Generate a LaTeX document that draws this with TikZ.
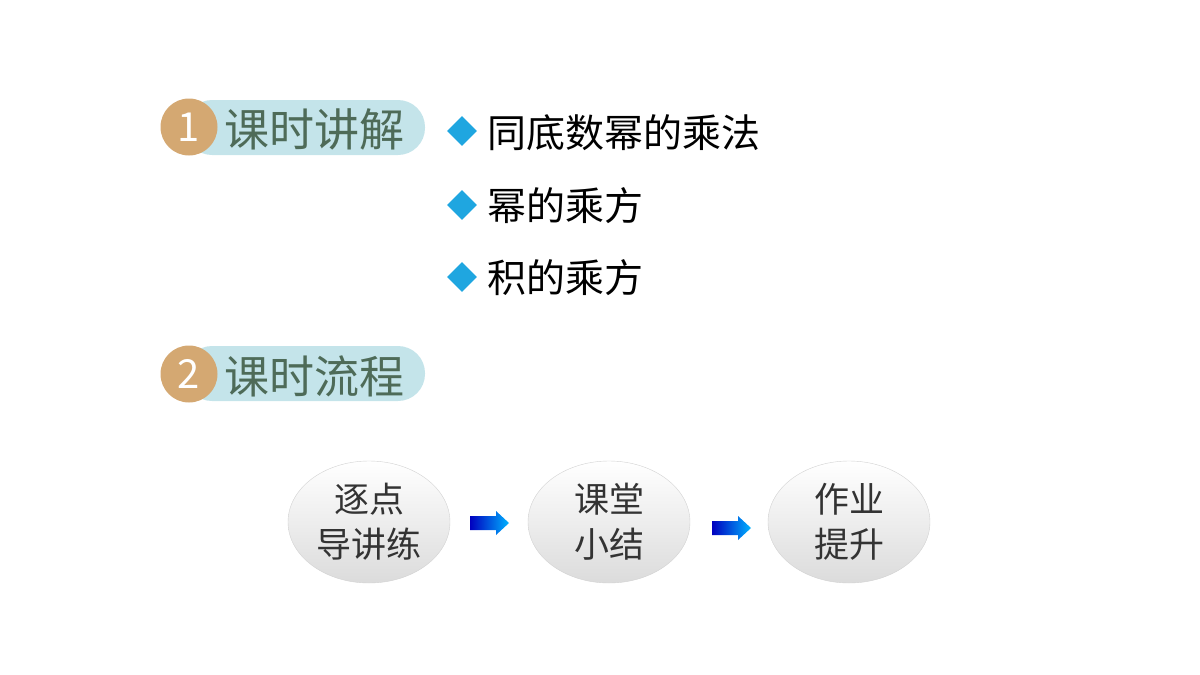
\documentclass[tikz,border=0pt]{standalone}
\usepackage{fontspec}
\setmainfont{Noto Sans CJK SC}
\usetikzlibrary{shapes.arrows,shapes.geometric}
\definecolor{tan}{HTML}{D4A872}
\definecolor{pill}{HTML}{C4E4EA}
\definecolor{ttl}{HTML}{4E6B58}
\definecolor{dia}{HTML}{1FA6E0}
\begin{document}
\begin{tikzpicture}[x=1pt,y=-1pt,
  pill/.style={fill=pill,rounded corners=27pt},
  num/.style={circle,fill=tan,minimum size=57pt,inner sep=0,text=white,font=\fontsize{40}{40}\selectfont},
  ttl/.style={anchor=west,text=ttl,inner sep=0,font=\fontsize{45}{45}\selectfont},
  dia/.style={diamond,fill=dia,minimum size=30pt,inner sep=0},
  item/.style={anchor=west,inner sep=0,font=\fontsize{39}{39}\selectfont},
  ell/.style={ellipse,minimum width=162pt,minimum height=122pt,top color=white,bottom color=gray!28,draw=gray!35,align=center,font=\fontsize{35}{45}\selectfont,text=black!80},
  arr/.style={left color=blue!75!black,right color=cyan!70!blue}]
\useasboundingbox (0,0) rectangle (1200,675);
\fill[pill] (185,100) rectangle (425,155);
\node[num] (n1) at (189,127) {1};
\node[ttl] (t1) at (224,129) {课时讲解};
\fill[pill] (185,346) rectangle (425,401);
\node[num] (n2) at (189,374) {2};
\node[ttl] (t2) at (224,376) {课时流程};
\node[dia] (d1) at (462,131) {};
\node[item] (i1) at (487,133) {同底数幂的乘法};
\node[dia] (d2) at (462,205) {};
\node[item] (i2) at (487,206) {幂的乘方};
\node[dia] (d3) at (462,277) {};
\node[item] (i3) at (487,278) {积的乘方};
\node[ell] (e1) at (369,522) {逐点\\导讲练};
\node[ell] (e2) at (609,522) {课堂\\小结};
\node[ell] (e3) at (849,522) {作业\\提升};
\shade[arr] (470,516) -- (496,516) -- (496,511) -- (509,523) -- (496,535) -- (496,530) -- (470,530) -- cycle;
\shade[arr] (712,521) -- (738,521) -- (738,516) -- (751,528) -- (738,540) -- (738,535) -- (712,535) -- cycle;
\end{tikzpicture}
\end{document}
